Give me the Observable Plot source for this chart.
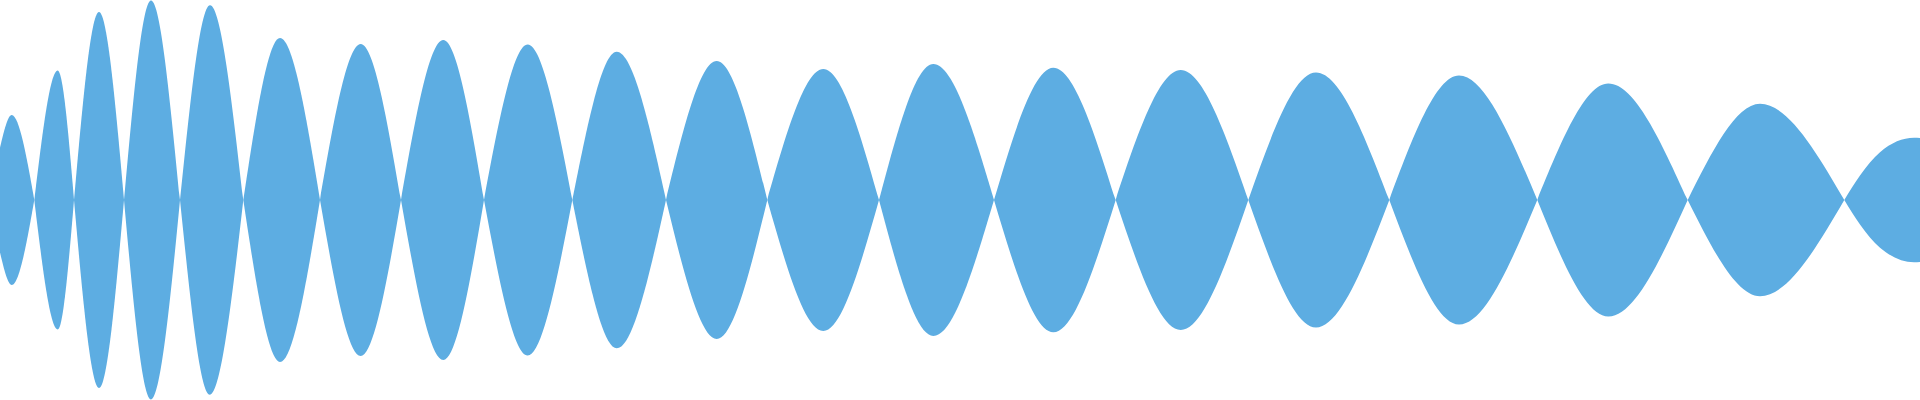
<!DOCTYPE html>
<html>
<head>
<meta charset="utf-8">
<script src="https://cdn.jsdelivr.net/npm/d3@7"></script>
<script src="https://cdn.jsdelivr.net/npm/@observablehq/plot@0.6"></script>
<style>
  html, body { margin: 0; padding: 0; background: #fff; }
  #chart svg { display: block; }
</style>
</head>
<body>
<div id="chart"></div>
<script>
// Samples: time positions and envelope magnitude
// (zero crossings have magnitude 0, peaks carry the lobe height)
const times = [
  0, 11.7, 34.3, 57.7, 74, 99, 124, 151, 180, 210, 243.3, 280, 320,
  360.7, 401, 443.3, 484, 527.7, 572.3, 616.7, 666, 716.7, 767.3,
  823.3, 879, 933.3, 994, 1053.3, 1115.7, 1180.7, 1248.3, 1316,
  1389.3, 1459, 1537.3, 1608.3, 1687.7, 1760, 1844.3, 1860, 1880, 1914, 1920
];
const magnitudes = [
  52.5, 85, 0, 129.5, 0, 188, 0, 199.5, 0, 194.7, 0, 162, 0,
  156, 0, 160, 0, 155.5, 0, 148.3, 0, 139, 0,
  131, 0, 136, 0, 132.3, 0, 130, 0, 127.5,
  0, 124.5, 0, 116.5, 0, 96.2, 0, 24.5, 47.8, 62.2, 62
];

// Split the samples into lobes at zero crossings (a crossing closes one lobe and opens the next)
const data = [];
let lobe = 0;
times.forEach((t, i) => {
  const a = magnitudes[i];
  data.push({t, a, lobe});
  if (a === 0 && i > 0 && i < times.length - 1) {
    lobe += 1;
    data.push({t, a, lobe});
  }
});

const chart = Plot.plot({
  width: 1920,
  height: 400,
  margin: 0,
  x: {domain: [0, 1920], axis: null},
  y: {domain: [-200, 200], axis: null},
  marks: [
    Plot.areaY(data, {
      x: "t",
      y1: d => -d.a,
      y2: "a",
      z: "lobe",
      curve: "monotone-x",
      fill: "#5DADE2"
    })
  ]
});
document.getElementById("chart").appendChild(chart);
</script>
</body>
</html>
